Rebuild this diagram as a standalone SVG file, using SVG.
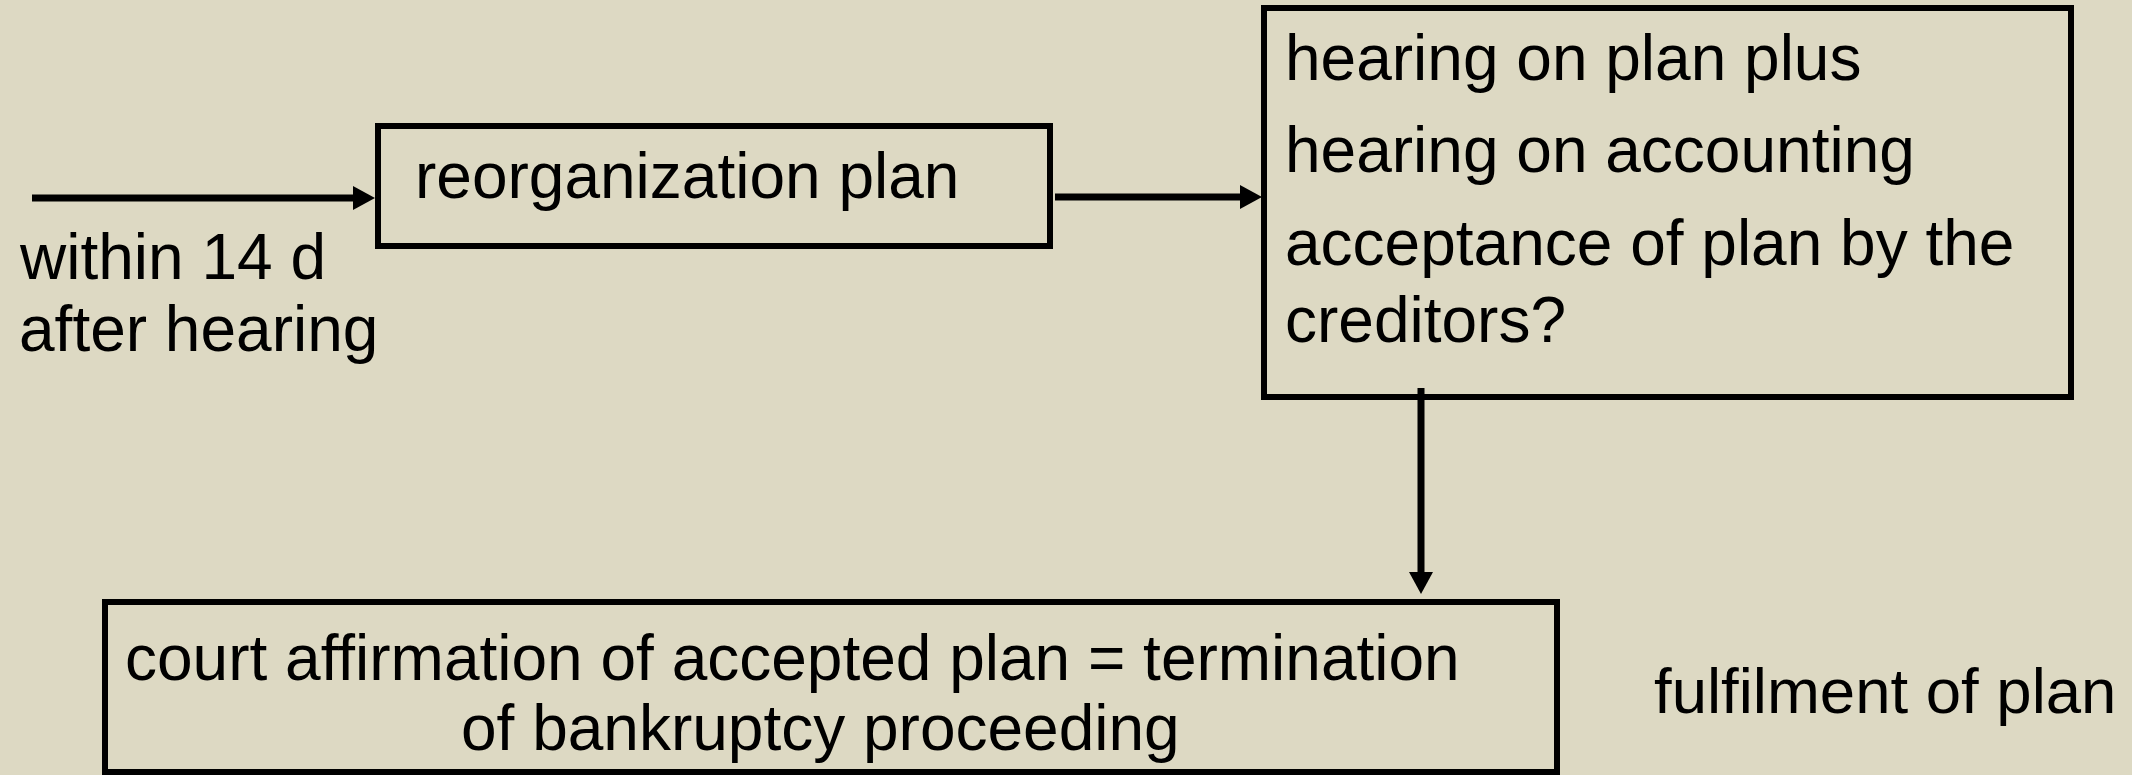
<svg xmlns="http://www.w3.org/2000/svg" width="2132" height="775" viewBox="0 0 2132 775">
<style>
.box{fill:none;stroke:#000;stroke-width:6}
.conn{fill:none;stroke:#000;stroke-width:7}
.t{font-family:"Liberation Sans",Arial,sans-serif;font-size:64px;fill:#000}
</style>
<defs>
<marker id="ah" markerUnits="userSpaceOnUse" markerWidth="24" markerHeight="24" refX="2" refY="12" orient="auto">
<path d="M0,0 L22,12 L0,24 Z" fill="#000"/>
</marker>
</defs>
<rect width="2132" height="775" fill="#DDD9C3"/>
<g id="connectors">
<line class="conn" x1="32" y1="198" x2="355" y2="198" marker-end="url(#ah)"/>
<line class="conn" x1="1055" y1="197" x2="1242" y2="197" marker-end="url(#ah)"/>
<line class="conn" x1="1421" y1="388" x2="1421" y2="574" marker-end="url(#ah)"/>
</g>
<g id="label-within">
<text class="t" x="20" y="279">within 14 d</text>
<text class="t" x="19" y="351">after hearing</text>
</g>
<g id="node-reorganization">
<rect class="box" x="378" y="126" width="672" height="120"/>
<text class="t" x="415" y="198">reorganization plan</text>
</g>
<g id="node-hearing">
<rect class="box" x="1264" y="8" width="807" height="389"/>
<text class="t" x="1285" y="80">hearing on plan plus</text>
<text class="t" x="1285" y="172">hearing on accounting</text>
<text class="t" x="1285" y="265">acceptance of plan by the</text>
<text class="t" x="1285" y="342">creditors?</text>
</g>
<g id="node-affirmation">
<rect class="box" x="105" y="602" width="1452" height="170"/>
<text class="t" x="125" y="680">court affirmation of accepted plan = termination</text>
<text class="t" x="461" y="750">of bankruptcy proceeding</text>
</g>
<g id="label-fulfilment">
<text class="t" x="1654" y="713" style="font-size:63.5px">fulfilment of plan</text>
</g>
</svg>
